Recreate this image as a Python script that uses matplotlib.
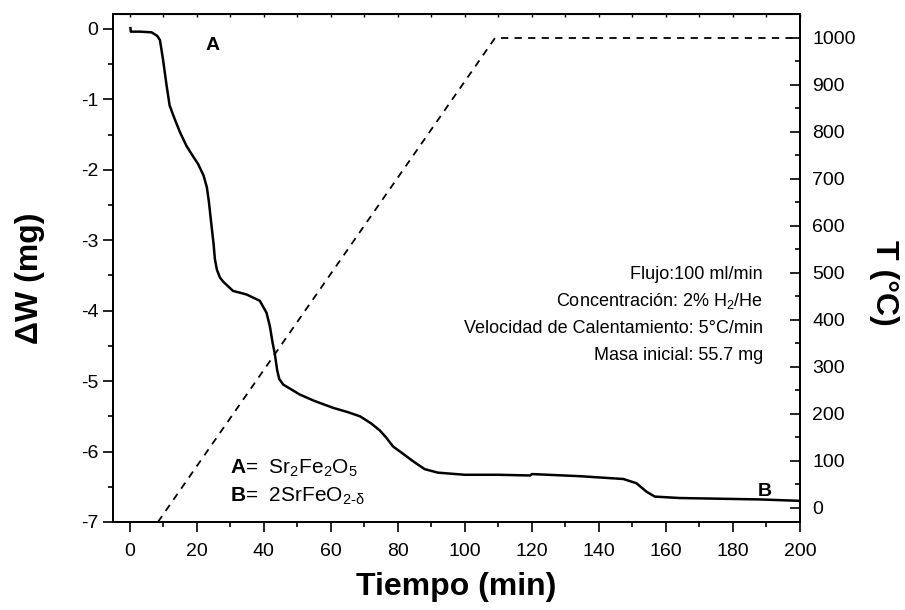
import matplotlib
matplotlib.use("Agg")
import matplotlib.pyplot as plt
from matplotlib.ticker import MultipleLocator

plt.rcParams["font.family"] = ["Liberation Sans", "DejaVu Sans"]
plt.rcParams["mathtext.fontset"] = "custom"
plt.rcParams["mathtext.rm"] = "Liberation Sans"
plt.rcParams["mathtext.it"] = "Liberation Sans:italic"
plt.rcParams["mathtext.bf"] = "Liberation Sans:bold"
plt.rcParams["axes.unicode_minus"] = False

# weight loss curve
time_min = [0.2, 0.3, 3.0, 6.5, 8.2, 9.0, 9.9, 11.0, 11.9, 13.4, 15.0, 16.9,
            18.6, 20.4, 22.0, 23.0, 23.6, 24.4, 25.0, 25.4, 26.0, 26.9, 27.9,
            30.8, 34.8, 38.8, 40.8, 41.8, 42.6, 43.3, 44.0, 44.6, 45.8, 50.7,
            55.0, 60.7, 65.0, 68.7, 72.0, 74.6, 76.5, 78.6, 81.5, 84.6, 88.0,
            92.0, 100.0, 110.0, 119.5, 120.0, 134.3, 147.3, 151.2, 154.2,
            156.7, 164.2, 188.0, 200.0]
weight_mg = [0.01, -0.04, -0.04, -0.05, -0.10, -0.16, -0.43, -0.81, -1.09,
             -1.28, -1.47, -1.66, -1.79, -1.92, -2.08, -2.25, -2.45, -2.80,
             -3.05, -3.27, -3.42, -3.53, -3.59, -3.72, -3.77, -3.86, -4.03,
             -4.22, -4.45, -4.62, -4.85, -4.97, -5.05, -5.19, -5.28, -5.38,
             -5.44, -5.50, -5.60, -5.70, -5.80, -5.93, -6.03, -6.14, -6.25,
             -6.30, -6.33, -6.33, -6.34, -6.32, -6.35, -6.39, -6.45, -6.57,
             -6.64, -6.66, -6.68, -6.70]

# temperature programme
temp_time = [8.4, 109.0, 200.0]
temp_c = [-30, 1000, 1000]

conditions = [
    "Flujo:100 ml/min",
    "Concentración: 2% H$_2$/He",
    "Velocidad de Calentamiento: 5°C/min",
    "Masa inicial: 55.7 mg",
]

fig = plt.figure(figsize=(9.05, 6.1), dpi=100)
ax = fig.add_axes([0.1249, 0.1443, 0.759, 0.8327])
ax2 = ax.twinx()

ax.plot(time_min, weight_mg, color="black", lw=1.8)
ax2.plot(temp_time, temp_c, color="black", lw=1.3, ls=(0, (4, 3.5)))

ax.set_xlim(-5, 200)
ax.set_ylim(-7, 0.21)
ax2.set_ylim(-30, 1051)

ax.xaxis.set_major_locator(MultipleLocator(20))
ax.xaxis.set_minor_locator(MultipleLocator(10))
ax.yaxis.set_major_locator(MultipleLocator(1))
ax.yaxis.set_minor_locator(MultipleLocator(0.5))
ax2.yaxis.set_major_locator(MultipleLocator(100))
ax2.yaxis.set_minor_locator(MultipleLocator(50))

ax.tick_params(which="major", direction="out", length=7, width=1.2, labelsize=14)
ax.tick_params(axis="x", which="major", pad=8)
ax.tick_params(which="minor", direction="out", length=3.5, width=1.2)
ax2.tick_params(which="major", direction="in", length=7, width=1.2, labelsize=14, pad=9)
ax2.tick_params(which="minor", direction="in", length=3.5, width=1.2)

top = ax.secondary_xaxis("top")
top.xaxis.set_major_locator(MultipleLocator(10))
top.tick_params(direction="in", length=2, width=1.0, labeltop=False)

for a in (ax, ax2):
    for s in a.spines.values():
        s.set_linewidth(1.3)

ax.set_xlabel("Tiempo (min)", fontsize=23, fontweight="bold", labelpad=9)
ax.set_ylabel("ΔW (mg)", fontsize=23, fontweight="bold", labelpad=26)
ax2.set_ylabel("T (°C)", fontsize=23, fontweight="bold", rotation=270, labelpad=31)
ax.yaxis.label.set_y(0.48)
ax2.yaxis.label.set_y(0.47)

ax.text(24.8, -0.24, "A", fontsize=14, fontweight="bold", ha="center", va="center")
ax.text(189.5, -6.57, "B", fontsize=14, fontweight="bold", ha="center", va="center")

ax.text(29.8, -6.24, r"$\mathbf{A}$=  Sr$_2$Fe$_2$O$_5$", fontsize=15, va="center")
ax.text(29.8, -6.63, r"$\mathbf{B}$=  2SrFeO$_{2\text{-δ}}$", fontsize=15, va="center")

for i, line in enumerate(conditions):
    ax.text(189, -3.49 - i * 0.38, line, fontsize=13, ha="right", va="center")

fig.savefig("out.png", dpi=100)
